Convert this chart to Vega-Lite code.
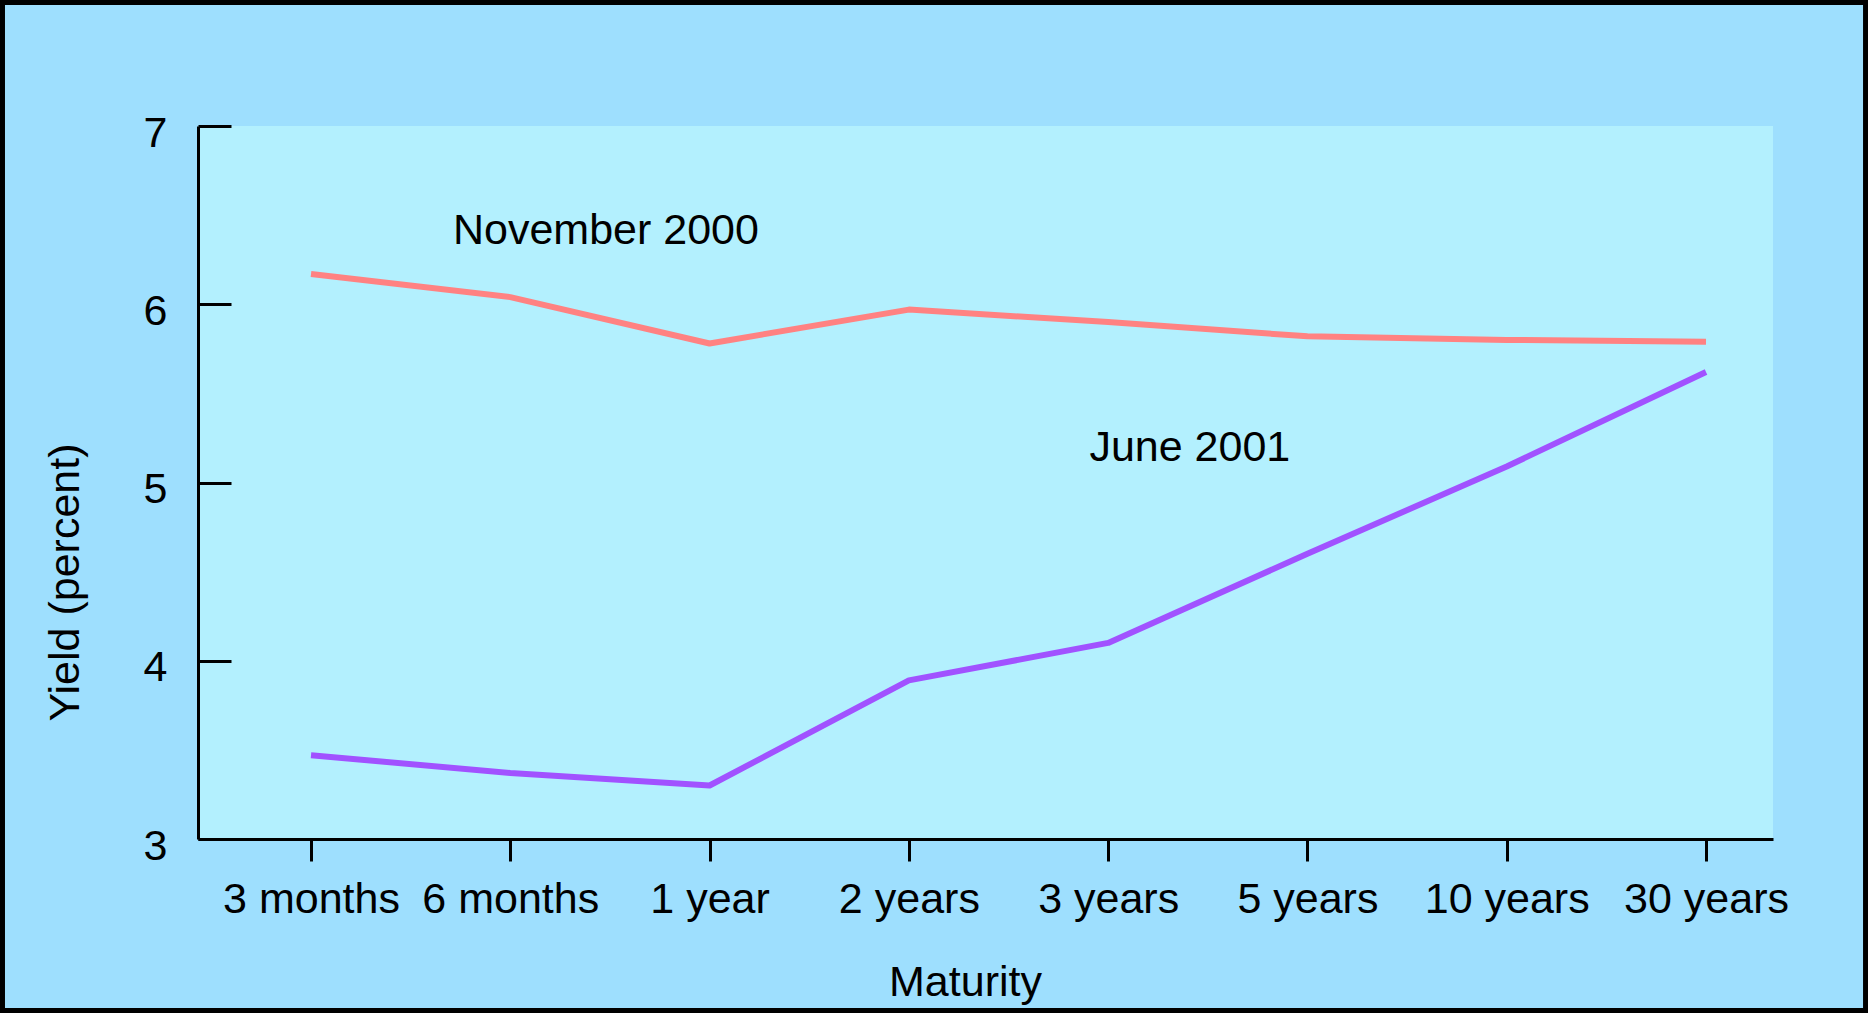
{
  "$schema": "https://vega.github.io/schema/vega-lite/v6.json",
  "width": 1575,
  "height": 713,
  "autosize": {"type": "none"},
  "padding": {"left": 198, "top": 126, "right": 95, "bottom": 174},
  "background": "#9EDFFE",
  "config": {
    "view": {"fill": "#B3F0FE", "stroke": null},
    "font": "Liberation Sans"
  },
  "datasets": {
    "yields": [
      {"maturity": "3 months", "rank": 0, "series": "November 2000", "yield": 6.17},
      {"maturity": "6 months", "rank": 1, "series": "November 2000", "yield": 6.04},
      {"maturity": "1 year", "rank": 2, "series": "November 2000", "yield": 5.78},
      {"maturity": "2 years", "rank": 3, "series": "November 2000", "yield": 5.97},
      {"maturity": "3 years", "rank": 4, "series": "November 2000", "yield": 5.9},
      {"maturity": "5 years", "rank": 5, "series": "November 2000", "yield": 5.82},
      {"maturity": "10 years", "rank": 6, "series": "November 2000", "yield": 5.8},
      {"maturity": "30 years", "rank": 7, "series": "November 2000", "yield": 5.79},
      {"maturity": "3 months", "rank": 0, "series": "June 2001", "yield": 3.47},
      {"maturity": "6 months", "rank": 1, "series": "June 2001", "yield": 3.37},
      {"maturity": "1 year", "rank": 2, "series": "June 2001", "yield": 3.3},
      {"maturity": "2 years", "rank": 3, "series": "June 2001", "yield": 3.89},
      {"maturity": "3 years", "rank": 4, "series": "June 2001", "yield": 4.1},
      {"maturity": "5 years", "rank": 5, "series": "June 2001", "yield": 4.6},
      {"maturity": "10 years", "rank": 6, "series": "June 2001", "yield": 5.09},
      {"maturity": "30 years", "rank": 7, "series": "June 2001", "yield": 5.62}
    ],
    "seriesLabels": [
      {"series": "November 2000", "rank": 1.48, "yield": 6.34},
      {"series": "June 2001", "rank": 4.41, "yield": 5.12}
    ]
  },
  "layer": [
    {
      "data": {"name": "yields"},
      "mark": {"type": "line", "strokeWidth": 6, "strokeCap": "butt", "strokeJoin": "round"},
      "encoding": {
        "x": {
          "field": "rank",
          "type": "quantitative",
          "scale": {"domain": [-0.5671, 7.3362], "nice": false, "zero": false},
          "axis": {
            "title": "Maturity",
            "values": [0, 1, 2, 3, 4, 5, 6, 7],
            "labelExpr": "['3 months', '6 months', '1 year', '2 years', '3 years', '5 years', '10 years', '30 years'][datum.value]",
            "grid": false,
            "domainColor": "#000000",
            "domainWidth": 3,
            "tickColor": "#000000",
            "tickWidth": 3,
            "tickSize": 22,
            "labelFont": "Liberation Sans",
            "labelFontSize": 43,
            "labelColor": "#000000",
            "labelBaseline": "alphabetic",
            "labelPadding": 51,
            "labelFlush": false,
            "labelOverlap": false,
            "titleFont": "Liberation Sans",
            "titleFontSize": 43,
            "titleFontWeight": "normal",
            "titleColor": "#000000",
            "titleX": 767,
            "titleY": 156,
            "titleAlign": "center",
            "titleBaseline": "alphabetic"
          }
        },
        "y": {
          "field": "yield",
          "type": "quantitative",
          "scale": {"domain": [3, 7], "nice": false, "zero": false},
          "axis": {
            "title": "Yield (percent)",
            "values": [3, 4, 5, 6, 7],
            "format": ".0f",
            "grid": false,
            "domainColor": "#000000",
            "domainWidth": 3,
            "tickColor": "#000000",
            "tickWidth": 3,
            "tickSize": -33,
            "labelFont": "Liberation Sans",
            "labelFontSize": 43,
            "labelColor": "#000000",
            "labelAlign": "right",
            "labelBaseline": "alphabetic",
            "labelOffset": 20,
            "labelPadding": 64,
            "labelFlush": false,
            "labelOverlap": false,
            "titleFont": "Liberation Sans",
            "titleFontSize": 43,
            "titleFontWeight": "normal",
            "titleColor": "#000000",
            "titleAngle": -90,
            "titleX": -120,
            "titleY": 456,
            "titleAlign": "center",
            "titleBaseline": "alphabetic"
          }
        },
        "color": {
          "field": "series",
          "type": "nominal",
          "scale": {"domain": ["November 2000", "June 2001"], "range": ["#FF8282", "#A152FF"]},
          "legend": null
        },
        "detail": {"field": "series"},
        "order": {"field": "rank"}
      }
    },
    {
      "data": {"name": "seriesLabels"},
      "mark": {"type": "text", "font": "Liberation Sans", "fontSize": 43, "color": "#000000", "align": "center", "baseline": "alphabetic"},
      "encoding": {
        "x": {"field": "rank", "type": "quantitative"},
        "y": {"field": "yield", "type": "quantitative"},
        "text": {"field": "series"}
      }
    },
    {
      "data": {"values": [{"frame": "outer"}]},
      "mark": {"type": "rect", "clip": false, "fill": "transparent", "stroke": "#000000", "strokeWidth": 8},
      "encoding": {
        "x": {"datum": -1.5557, "type": "quantitative"},
        "x2": {"datum": 7.8081},
        "y": {"datum": 2.0294, "type": "quantitative"},
        "y2": {"datum": 7.7013}
      }
    }
  ]
}
